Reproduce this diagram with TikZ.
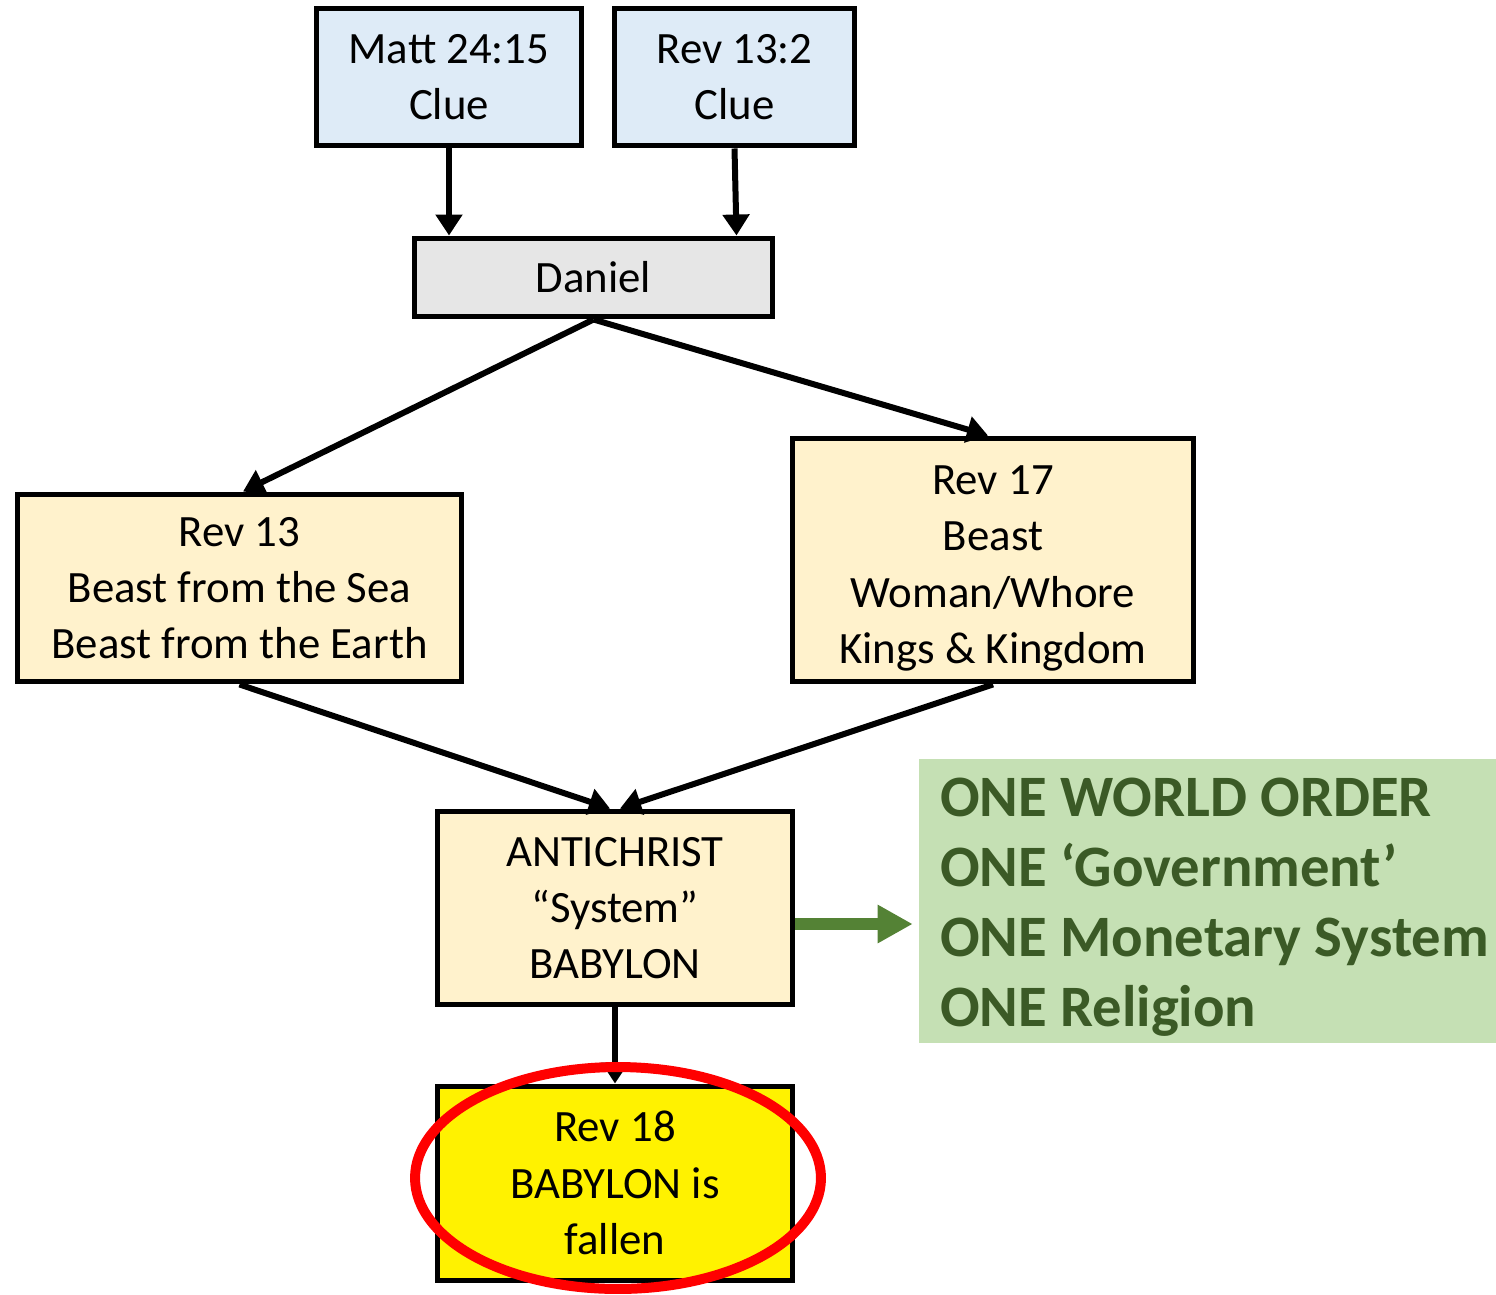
\documentclass[tikz,border=0pt]{standalone}
\usepackage{fontspec}
\setmainfont{Carlito}
\usetikzlibrary{arrows.meta}

\definecolor{clueblue}{HTML}{DEEBF7}
\definecolor{danielgray}{HTML}{E6E6E6}
\definecolor{revtan}{HTML}{FFF2CC}
\definecolor{worldgreen}{HTML}{C5E0B4}
\definecolor{worldtext}{HTML}{3B5A26}
\definecolor{worldarrow}{HTML}{548235}

\tikzset{
    box/.style={draw, rectangle, line width=0.1cm, align=center,
        font=\fontsize{25.5}{32}\selectfont},
    link/.style={line width=0.12cm, -{Triangle[length=0.42cm, width=0.52cm]}}
}

\begin{document}
\begin{tikzpicture}[x=0.02cm, y=-0.02cm]
        \useasboundingbox (0,0) rectangle (1496,1294);

        \node[box,
        fill=clueblue,
        minimum width = 5.32cm, 
        minimum height = 2.76cm
        ](matt) at (449,77) {Matt 24:15\\Clue};

        \node[box,
        fill=clueblue,
        minimum width = 4.82cm, 
        minimum height = 2.76cm
        ](revclue) at (734.5,77) {Rev 13:2\\Clue};

        \node[box,
        fill=danielgray,
        minimum width = 7.18cm, 
        minimum height = 1.58cm
        ](daniel) at (593.5,277.5) {Daniel};

        \node[box,
        fill=revtan,
        minimum width = 8.9cm, 
        minimum height = 3.76cm
        ](revsea) at (239.5,588) {Rev 13\\Beast from the Sea\\Beast from the Earth};

        \node[box,
        fill=revtan,
        minimum width = 8.04cm, 
        minimum height = 4.88cm
        ](revwhore) at (993,560) {\rule{0pt}{26pt}Rev 17\\Beast\\Woman/Whore\\Kings \& Kingdom};

        \node[box,
        fill=revtan,
        minimum width = 7.12cm, 
        minimum height = 3.88cm
        ](antichrist) at (615,908) {ANTICHRIST\\“System”\\BABYLON};

        \node[box,
        fill=yellow,
        minimum width = 7.12cm, 
        minimum height = 3.88cm
        ](fallen) at (615,1183) {Rev 18\\BABYLON is\\fallen};

        \node[draw=none,
        rectangle,
        fill=worldgreen,
        minimum width = 11.54cm, 
        minimum height = 5.68cm
        ](world) at (1207.5,901) {};

        \node[align=left,
        anchor=west,
        text=worldtext,
        font=\fontsize{33.4}{39.8}\selectfont\bfseries
        ](worldtxt) at (934,907) {ONE WORLD ORDER\\ONE ‘Government’\\ONE Monetary System\\ONE Religion};

        % connectors
        \draw[link] (matt.south) -- (matt.south |- daniel.north);
        \draw[link] (revclue.south) -- ([xshift=0.04cm]revclue.south |- daniel.north);
        \draw[link] (daniel.south) -- ([xshift=0.07cm]revsea.north);
        \draw[link] (daniel.south) -- ([xshift=-0.1cm]revwhore.north);
        \draw[link] (revsea.south) -- ([xshift=-0.1cm]antichrist.north);
        \draw[link] (revwhore.south) -- ([xshift=0.1cm]antichrist.north);
        \draw[link] (antichrist.south) -- (fallen.north);
        \draw[worldarrow, line width=0.24cm, -{Triangle[length=0.7cm, width=0.72cm]}]
            ([yshift=-0.32cm]antichrist.east) -- ([yshift=-0.32cm, xshift=-0.12cm]antichrist.east -| world.west);

        % highlight
        \draw[red, line width=0.2cm] (618,1178) ellipse [x radius=4.06cm, y radius=2.22cm];

    \end{tikzpicture}
\end{document}
